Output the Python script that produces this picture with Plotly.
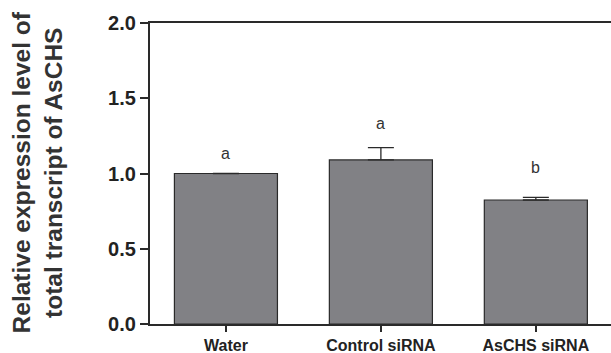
import plotly.graph_objects as go

categories = ["Water", "Control siRNA", "AsCHS siRNA"]
values = [1.0, 1.09, 0.824]
errors = [0.0, 0.082, 0.018]
letters = ["a", "a", "b"]
letter_y = [1.13, 1.33, 1.04]
y_ticks = [0.0, 0.5, 1.0, 1.5, 2.0]
y_title = "Relative expression level of<br>total transcript of AsCHS"

FONT = "Arial, Liberation Sans, Helvetica, sans-serif"
AX = "#2a2a2a"

err_plus = [e if e > 0 else None for e in errors]
err_minus = [0 if e > 0 else None for e in errors]

fig = go.Figure()
fig.add_trace(go.Bar(
    x=list(range(len(categories))),
    y=values,
    width=0.665,
    marker=dict(color="#818185", line=dict(color="#2a2a2a", width=1.2)),
    error_y=dict(type="data", array=err_plus, arrayminus=err_minus,
                 symmetric=False, color="#2a2a2a", thickness=1.3, width=13),
    showlegend=False,
))

for i, (lab, ly) in enumerate(zip(letters, letter_y)):
    fig.add_annotation(x=i, y=ly, text=lab, showarrow=False,
                       font=dict(family=FONT, size=16, color="#333333"))

fig.add_annotation(xref="paper", yref="paper", x=-0.242, y=0.505, text="<b>%s</b>" % y_title,
                   textangle=-90, showarrow=False, align="center",
                   xanchor="center", yanchor="middle",
                   font=dict(family=FONT, size=24.5, color="#333333"))

fig.update_layout(
    width=611, height=353,
    margin=dict(l=150, r=0, t=23, b=29),
    paper_bgcolor="white", plot_bgcolor="white",
    font=dict(family=FONT, color="#222222"),
    bargap=0.3,
)
fig.update_xaxes(
    range=[-0.49, 2.485],
    tickvals=list(range(len(categories))), ticktext=["<b>%s</b>" % c for c in categories],
    tickfont=dict(family=FONT, size=16, color="#222222"),
    showline=True, linecolor=AX, linewidth=2.2, mirror=True,
    ticks="outside", ticklen=6, tickwidth=2.2, tickcolor=AX,
    showgrid=False, zeroline=False, automargin=False,
)
fig.update_yaxes(
    range=[0, 2.0],
    tickvals=y_ticks, ticktext=["<b>%.1f</b>" % v for v in y_ticks],
    tickfont=dict(family=FONT, size=20, color="#222222"),
    showline=True, linecolor=AX, linewidth=2.2,
    ticks="outside", ticklen=8, tickwidth=2.2, tickcolor=AX,
    showgrid=False, zeroline=False, automargin=False,
)

fig.write_html("out.html", config={"displayModeBar": False},
               post_script="document.body.style.margin='0';document.body.style.overflow='hidden';")
